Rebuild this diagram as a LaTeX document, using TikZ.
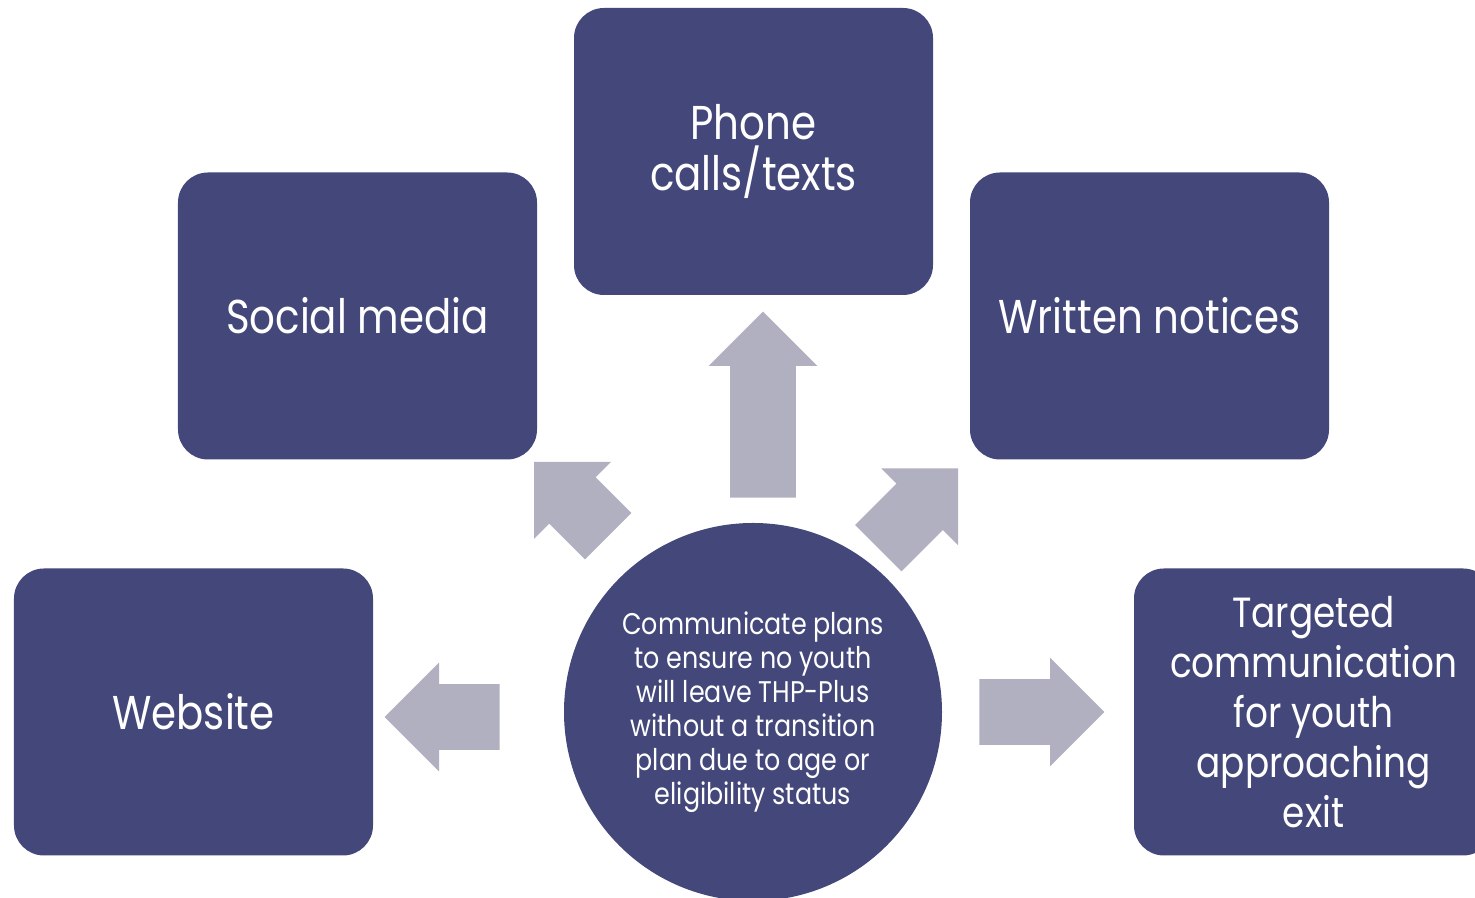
\documentclass[tikz,border=0pt]{standalone}
\usepackage{fontspec}
\setmainfont{Poppins}[FakeStretch=0.85]
\usetikzlibrary{shapes.arrows}
\definecolor{boxblue}{HTML}{43477A}
\definecolor{arrowgrey}{HTML}{B0B0C0}

\begin{document}
\begin{tikzpicture}[x=0.2mm, y=0.2mm,
    box/.style={fill=boxblue, rounded corners=6mm, minimum width=71.8mm, minimum height=57.4mm,
        text=white, align=center, font=\fontsize{27}{28.5}\selectfont},
    hub/.style={circle, fill=boxblue, minimum size=75.6mm, inner sep=0pt,
        text=white, align=center, font=\fontsize{17}{19.3}\selectfont},
    fatarrow/.style={single arrow, fill=arrowgrey, inner xsep=0pt, inner ysep=6.5mm,
        single arrow head extend=4.3mm, single arrow tip angle=90, anchor=tail}]
    \clip (0,0) rectangle (1475,898);
    % centre
    \node (hub) [hub] at (753,186) {Communicate plans\\to ensure no youth\\will leave THP-Plus\\without a transition\\plan due to age or\\eligibility status};
    % boxes
    \node (phone) [box] at (753.5,746.5) {Phone\\calls/texts};
    \node (social) [box] at (357.5,582) {Social media};
    \node (written) [box] at (1149.5,582) {Written notices};
    \node (website) [box] at (193.5,186) {Website};
    \node (targeted) [box, font=\fontsize{24}{28.5}\selectfont] at (1313.5,186) {Targeted\\communication\\for youth\\approaching\\exit};
    % arrows (placed by their tails)
    \node (toPhone) [fatarrow, minimum height=37.2mm, rotate=90] at (763,400) {};
    \node (toSocial) [fatarrow, minimum height=21mm, rotate=135] at (608.5,361.5) {};
    \node (toWritten) [fatarrow, minimum height=22.6mm, rotate=45] at (878,349.5) {};
    \node (toWebsite) [fatarrow, minimum height=23mm, rotate=180] at (500,181) {};
    \node (toTargeted) [fatarrow, minimum height=25mm] at (979,186) {};
\end{tikzpicture}
\end{document}
